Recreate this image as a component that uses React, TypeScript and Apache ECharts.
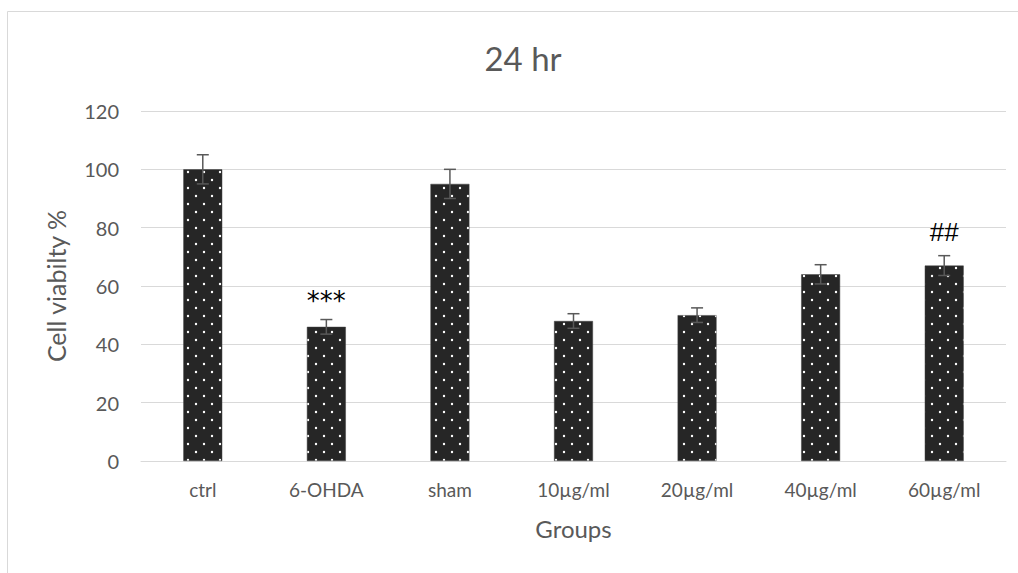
import React, { useEffect, useRef } from "react";
import * as echarts from "echarts";

const categories = ["ctrl", "6-OHDA", "sham", "10µg/ml", "20µg/ml", "40µg/ml", "60µg/ml"];
const values = [100, 46, 95, 48, 50, 64, 67];
const errors = [5, 2.5, 5, 2.5, 2.5, 3.3, 3.4];
const marks = ["", "***", "", "", "", "", "##"];
const yTicks = { min: 0, max: 120, interval: 20 };

function makePattern(): HTMLCanvasElement {
  const c = document.createElement("canvas");
  c.width = 16;
  c.height = 16;
  const ctx = c.getContext("2d")!;
  ctx.fillStyle = "#262626";
  ctx.fillRect(0, 0, 16, 16);
  ctx.fillStyle = "#ffffff";
  ctx.beginPath();
  ctx.arc(4, 4, 1.2, 0, Math.PI * 2);
  ctx.fill();
  ctx.beginPath();
  ctx.arc(12, 12, 1.2, 0, Math.PI * 2);
  ctx.fill();
  return c;
}

export default function App() {
  const ref = useRef<HTMLDivElement>(null);
  useEffect(() => {
    if (!ref.current) return;
    const chart = echarts.init(ref.current, undefined, { renderer: "svg" });
    const font = "Lato, 'Open Sans', sans-serif";
    const grey = "#595959";
    const pattern = makePattern();
    chart.setOption({
      animation: false,
      backgroundColor: "#ffffff",
      textStyle: { fontFamily: font },
      title: {
        text: "24 hr",
        left: 518,
        top: 36,
        textAlign: "center",
        textStyle: { fontFamily: font, fontSize: 33, fontWeight: "normal", color: grey },
      },
      graphic: [
        {
          type: "rect",
          shape: { x: 7.5, y: 11.5, width: 1200, height: 800 },
          style: { fill: "none", stroke: "#d9d9d9", lineWidth: 1 },
          silent: true,
        },
      ],
      grid: { left: 141, right: 12, top: 111, bottom: 112 },
      xAxis: {
        type: "category",
        data: categories,
        name: "Groups",
        nameLocation: "middle",
        nameGap: 55,
        nameTextStyle: { fontFamily: font, fontSize: 24, color: grey },
        axisLine: { lineStyle: { color: "#d9d9d9", width: 1 } },
        axisTick: { show: false },
        axisLabel: { fontFamily: font, fontSize: 19, color: grey, margin: 19 },
      },
      yAxis: {
        type: "value",
        min: yTicks.min,
        max: yTicks.max,
        interval: yTicks.interval,
        name: "Cell viabilty %",
        nameLocation: "middle",
        nameGap: 73,
        nameTextStyle: { fontFamily: font, fontSize: 25, color: grey },
        axisLine: { show: false },
        axisTick: { show: false },
        axisLabel: { fontFamily: font, fontSize: 20, color: grey, margin: 22 },
        splitLine: { lineStyle: { color: "#d9d9d9", width: 1 } },
      },
      series: [
        {
          type: "bar",
          data: values,
          barWidth: "31.5%",
          itemStyle: {
            color: { image: pattern, repeat: "repeat" },
            borderColor: "#404040",
            borderWidth: 0.5,
          },
          z: 2,
        },
        {
          type: "custom",
          data: values.map((v, i) => [i, v, errors[i]]),
          z: 3,
          renderItem: (params: any, api: any) => {
            const x = api.value(0);
            const v = api.value(1);
            const e = api.value(2);
            const top = api.coord([x, v + e]);
            const bot = api.coord([x, v - e]);
            const hw = 6;
            const style = { stroke: grey, lineWidth: 1.5 };
            return {
              type: "group",
              children: [
                { type: "line", shape: { x1: top[0], y1: top[1], x2: bot[0], y2: bot[1] }, style },
                { type: "line", shape: { x1: top[0] - hw, y1: top[1], x2: top[0] + hw, y2: top[1] }, style },
                { type: "line", shape: { x1: bot[0] - hw, y1: bot[1], x2: bot[0] + hw, y2: bot[1] }, style },
              ],
            };
          },
        },
        {
          type: "custom",
          data: values.map((v, i) => [i, v + errors[i], marks[i]]),
          z: 4,
          renderItem: (params: any, api: any) => {
            const i = params.dataIndex;
            const p = api.coord([api.value(0), api.value(1)]);
            const isStar = marks[i].indexOf("*") >= 0;
            return {
              type: "text",
              x: p[0],
              y: isStar ? p[1] - 6 : p[1] - 11,
              style: {
                text: marks[i],
                fontFamily: isStar ? "'DejaVu Sans', sans-serif" : "'Liberation Sans', sans-serif",
                fontSize: isStar ? 26 : 26,
                fill: "#000000",
                align: "center",
                verticalAlign: "bottom",
              },
            };
          },
        },
      ],
    });
    return () => chart.dispose();
  }, []);
  return (
    <div
      ref={ref}
      style={{ position: "fixed", left: 0, top: 0, width: 1018, height: 573 }}
    />
  );
}
